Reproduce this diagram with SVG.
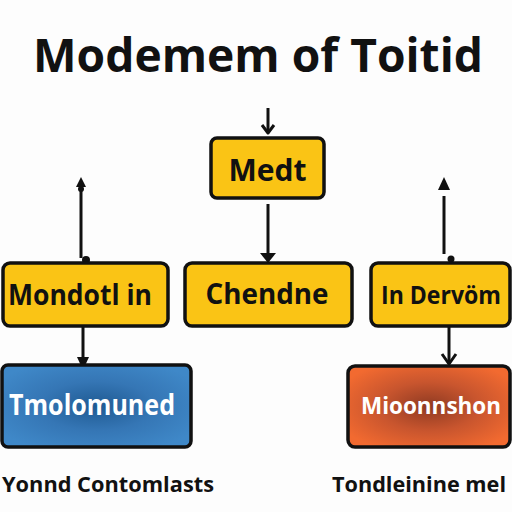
<svg xmlns="http://www.w3.org/2000/svg" width="512" height="512" viewBox="0 0 512 512">
<defs>
<radialGradient id="gBlue" cx="0.5" cy="0.5" r="0.6">
<stop offset="0" stop-color="#1F5A92"/>
<stop offset="0.5" stop-color="#3576B5"/>
<stop offset="1" stop-color="#3F88C8"/>
</radialGradient>
<radialGradient id="gOrange" cx="0.5" cy="0.5" r="0.6">
<stop offset="0" stop-color="#8E3A22"/>
<stop offset="0.5" stop-color="#C8552E"/>
<stop offset="1" stop-color="#F26A30"/>
</radialGradient>
</defs>
<style>
.box{stroke:#111;stroke-width:3.5}
.yel{fill:#FAC415}
.lbl{font-family:"Open Sans","DejaVu Sans",sans-serif;font-weight:700;text-anchor:middle;fill:#111}
.wht{fill:#fff}
.ln{stroke:#111;stroke-width:3;fill:none}
.chev{stroke:#111;stroke-width:3;fill:none;stroke-linejoin:round}
.head{fill:#111}
</style>
<rect width="512" height="512" fill="#FDFDFD"/>
<text class="lbl" x="258" y="72" font-size="46" textLength="450" lengthAdjust="spacingAndGlyphs" fill="#000">Modemem of Toitid</text>

<g id="connectors">
<line class="ln" x1="268" y1="108" x2="268" y2="133"/>
<path class="chev" d="M262,125 L268,133 L274,125"/>
<line class="ln" x1="268" y1="204" x2="268" y2="256"/>
<path class="head" d="M260,253 L276,253 L268,263 Z"/>
<line class="ln" x1="81" y1="186" x2="81" y2="258"/>
<path class="head" d="M76,187 L86,187 L81,177 Z"/>
<circle class="head" cx="81" cy="189" r="3"/>
<circle class="head" cx="86" cy="260" r="4"/>
<line class="ln" x1="444" y1="196" x2="444" y2="254"/>
<path class="head" d="M438,190 L450,190 L444,177 Z"/>
<circle class="head" cx="451" cy="259" r="3.5"/>
<line class="ln" x1="83" y1="326" x2="83" y2="360"/>
<path class="head" d="M77,357 L89,357 L83,370 Z"/>
<line class="ln" x1="449" y1="326" x2="449" y2="364"/>
<path class="chev" d="M442,354 L449,364 L456,354"/>
</g>

<g id="medt">
<rect class="box yel" x="211" y="138" width="113" height="60" rx="6"/>
<text class="lbl" x="267.5" y="181" font-size="30">Medt</text>
</g>
<g id="mondotl">
<rect class="box yel" x="3" y="263" width="165" height="63" rx="7"/>
<text class="lbl" x="80" y="305" font-size="29" textLength="144" lengthAdjust="spacingAndGlyphs">Mondotl in</text>
</g>
<g id="chendne">
<rect class="box yel" x="185" y="263" width="167" height="63" rx="7"/>
<text class="lbl" x="267" y="304" font-size="29" textLength="123" lengthAdjust="spacingAndGlyphs">Chendne</text>
</g>
<g id="dervom">
<rect class="box yel" x="371" y="263" width="139" height="63" rx="7"/>
<text class="lbl" x="441" y="304" font-size="25" textLength="120" lengthAdjust="spacingAndGlyphs">In Dervöm</text>
</g>
<g id="tmolomuned">
<rect class="box" x="2" y="365" width="189" height="82" rx="6" fill="url(#gBlue)"/>
<text class="lbl wht" x="92" y="415" font-size="28" textLength="166" lengthAdjust="spacingAndGlyphs">Tmolomuned</text>
</g>
<g id="mioonn">
<rect class="box" x="348" y="366" width="162" height="81" rx="7" fill="url(#gOrange)"/>
<text class="lbl wht" x="431" y="414" font-size="23.5" textLength="140" lengthAdjust="spacingAndGlyphs">Mioonnshon</text>
</g>
<text class="lbl" x="108" y="492" font-size="22" textLength="212" lengthAdjust="spacingAndGlyphs">Yonnd  Contomlasts</text>
<text class="lbl" x="419" y="492" font-size="22" textLength="174" lengthAdjust="spacingAndGlyphs">Tondleinine mel</text>
</svg>
